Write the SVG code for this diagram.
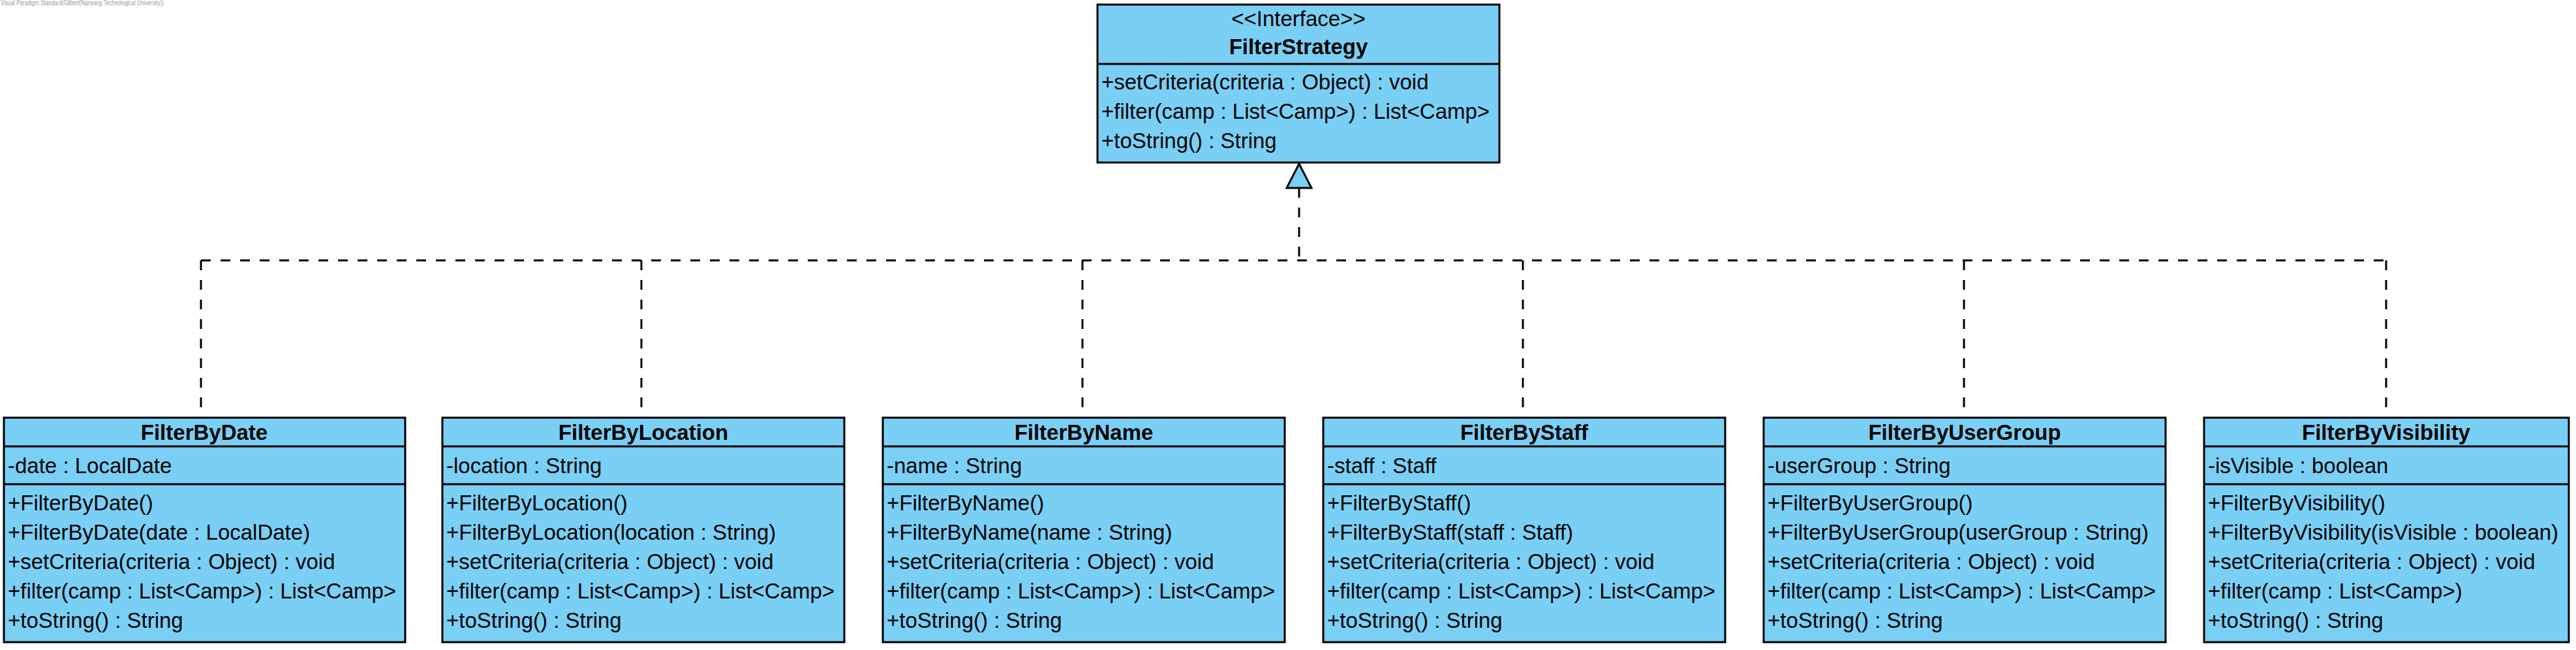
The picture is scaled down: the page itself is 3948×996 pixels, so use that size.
<svg xmlns="http://www.w3.org/2000/svg" width="3948" height="996" viewBox="0 0 3948 996">
<style>
.box{fill:#7ACFF5;stroke:#000;stroke-width:3}
.div{stroke:#000;stroke-width:3}
.t{font-family:"Liberation Sans",Arial,sans-serif;font-size:33px;fill:#000}
.b{font-weight:bold;text-anchor:middle}
.c{text-anchor:middle}
.dash{fill:none;stroke:#000;stroke-width:3;stroke-dasharray:15 15}
.wm{font-family:"Liberation Sans",Arial,sans-serif;font-size:10px;fill:#9a9a9a}
</style>
<rect width="3948" height="996" fill="#fff"/>
<text class="wm" x="1" y="8" textLength="250" lengthAdjust="spacingAndGlyphs">Visual Paradigm Standard(Gilbert(Nanyang Technological University))</text>

<g id="connectors">
<path class="dash" d="M308,399 H3657"/>
<path class="dash" d="M1991,288 V399"/>
<path class="dash" d="M308,399 V640"/>
<path class="dash" d="M983,399 V640"/>
<path class="dash" d="M1659,399 V640"/>
<path class="dash" d="M2334,399 V640"/>
<path class="dash" d="M3010,399 V640"/>
<path class="dash" d="M3657,399 V640"/>
<polygon points="1991,251 2010,288 1972,288" fill="#7ACFF5" stroke="#000" stroke-width="3"/>
</g>

<g id="FilterStrategy">
<rect class="box" x="1682" y="7" width="616" height="242"/>
<line class="div" x1="1682" y1="98" x2="2298" y2="98"/>
<text class="t c" x="1990" y="40">&lt;&lt;Interface&gt;&gt;</text>
<text class="t b" x="1990" y="83">FilterStrategy</text>
<text class="t" x="1688" y="137">+setCriteria(criteria : Object) : void</text>
<text class="t" x="1688" y="182">+filter(camp : List&lt;Camp&gt;) : List&lt;Camp&gt;</text>
<text class="t" x="1688" y="227">+toString() : String</text>
</g>

<g id="FilterByDate">
<rect class="box" x="6" y="640" width="615" height="344"/>
<line class="div" x1="6" y1="684" x2="621" y2="684"/>
<line class="div" x1="6" y1="742" x2="621" y2="742"/>
<text class="t b" x="313" y="674">FilterByDate</text>
<text class="t" x="12" y="725">-date : LocalDate</text>
<text class="t" x="12" y="782">+FilterByDate()</text>
<text class="t" x="12" y="827">+FilterByDate(date : LocalDate)</text>
<text class="t" x="12" y="872">+setCriteria(criteria : Object) : void</text>
<text class="t" x="12" y="917">+filter(camp : List&lt;Camp&gt;) : List&lt;Camp&gt;</text>
<text class="t" x="12" y="962">+toString() : String</text>
</g>

<g id="FilterByLocation">
<rect class="box" x="678" y="640" width="616" height="344"/>
<line class="div" x1="678" y1="684" x2="1294" y2="684"/>
<line class="div" x1="678" y1="742" x2="1294" y2="742"/>
<text class="t b" x="986" y="674">FilterByLocation</text>
<text class="t" x="684" y="725">-location : String</text>
<text class="t" x="684" y="782">+FilterByLocation()</text>
<text class="t" x="684" y="827">+FilterByLocation(location : String)</text>
<text class="t" x="684" y="872">+setCriteria(criteria : Object) : void</text>
<text class="t" x="684" y="917">+filter(camp : List&lt;Camp&gt;) : List&lt;Camp&gt;</text>
<text class="t" x="684" y="962">+toString() : String</text>
</g>

<g id="FilterByName">
<rect class="box" x="1353" y="640" width="616" height="344"/>
<line class="div" x1="1353" y1="684" x2="1969" y2="684"/>
<line class="div" x1="1353" y1="742" x2="1969" y2="742"/>
<text class="t b" x="1661" y="674">FilterByName</text>
<text class="t" x="1359" y="725">-name : String</text>
<text class="t" x="1359" y="782">+FilterByName()</text>
<text class="t" x="1359" y="827">+FilterByName(name : String)</text>
<text class="t" x="1359" y="872">+setCriteria(criteria : Object) : void</text>
<text class="t" x="1359" y="917">+filter(camp : List&lt;Camp&gt;) : List&lt;Camp&gt;</text>
<text class="t" x="1359" y="962">+toString() : String</text>
</g>

<g id="FilterByStaff">
<rect class="box" x="2028" y="640" width="616" height="344"/>
<line class="div" x1="2028" y1="684" x2="2644" y2="684"/>
<line class="div" x1="2028" y1="742" x2="2644" y2="742"/>
<text class="t b" x="2336" y="674">FilterByStaff</text>
<text class="t" x="2034" y="725">-staff : Staff</text>
<text class="t" x="2034" y="782">+FilterByStaff()</text>
<text class="t" x="2034" y="827">+FilterByStaff(staff : Staff)</text>
<text class="t" x="2034" y="872">+setCriteria(criteria : Object) : void</text>
<text class="t" x="2034" y="917">+filter(camp : List&lt;Camp&gt;) : List&lt;Camp&gt;</text>
<text class="t" x="2034" y="962">+toString() : String</text>
</g>

<g id="FilterByUserGroup">
<rect class="box" x="2703" y="640" width="616" height="344"/>
<line class="div" x1="2703" y1="684" x2="3319" y2="684"/>
<line class="div" x1="2703" y1="742" x2="3319" y2="742"/>
<text class="t b" x="3011" y="674">FilterByUserGroup</text>
<text class="t" x="2709" y="725">-userGroup : String</text>
<text class="t" x="2709" y="782">+FilterByUserGroup()</text>
<text class="t" x="2709" y="827">+FilterByUserGroup(userGroup : String)</text>
<text class="t" x="2709" y="872">+setCriteria(criteria : Object) : void</text>
<text class="t" x="2709" y="917">+filter(camp : List&lt;Camp&gt;) : List&lt;Camp&gt;</text>
<text class="t" x="2709" y="962">+toString() : String</text>
</g>

<g id="FilterByVisibility">
<rect class="box" x="3378" y="640" width="559" height="344"/>
<line class="div" x1="3378" y1="684" x2="3937" y2="684"/>
<line class="div" x1="3378" y1="742" x2="3937" y2="742"/>
<text class="t b" x="3657" y="674">FilterByVisibility</text>
<text class="t" x="3384" y="725">-isVisible : boolean</text>
<text class="t" x="3384" y="782">+FilterByVisibility()</text>
<text class="t" x="3384" y="827">+FilterByVisibility(isVisible : boolean)</text>
<text class="t" x="3384" y="872">+setCriteria(criteria : Object) : void</text>
<text class="t" x="3384" y="917">+filter(camp : List&lt;Camp&gt;)</text>
<text class="t" x="3384" y="962">+toString() : String</text>
</g>
</svg>
